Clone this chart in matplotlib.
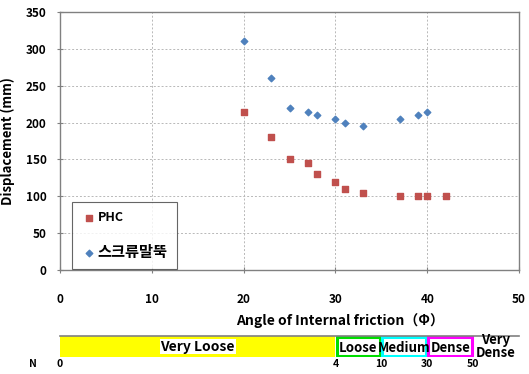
import matplotlib.pyplot as plt
from matplotlib.patches import Rectangle

plt.rcParams['font.family'] = ['Noto Sans CJK KR', 'DejaVu Sans']

# Data
phc_x = [20, 23, 25, 27, 28, 30, 31, 33, 37, 39, 40, 42]
phc_y = [215, 180, 150, 145, 130, 120, 110, 105, 100, 100, 100, 100]
screw_x = [20, 23, 25, 27, 28, 30, 31, 33, 37, 39, 40]
screw_y = [310, 260, 220, 215, 210, 205, 200, 195, 205, 210, 215]

# Relative density bands (angle ranges) and SPT N values
band_edges = [0, 30, 35, 40, 45, 50]
band_names = ['Very Loose', 'Loose', 'Medium', 'Dense', 'Very\nDense']
band_colors = ['#FFFF00', '#00DD00', '#00FFFF', '#FF00FF', '#999999']
n_values = ['0', '4', '10', '30', '50']

W, H = 529, 374
fig = plt.figure(figsize=(W / 100, H / 100), dpi=100)
ax = fig.add_axes([60 / W, (H - 270) / H, 459 / W, 258 / H])

ax.scatter(phc_x, phc_y, marker='s', s=22, color='#C0504D', label='PHC', zorder=3)
ax.scatter(screw_x, screw_y, marker='D', s=11, color='#4F81BD', label='스크류말뚝', zorder=3)

ax.set_xlim(0, 50)
ax.set_ylim(0, 350)
ax.set_xticks(range(0, 51, 10))
ax.set_yticks(range(0, 351, 50))
ax.grid(True, color='#B8B8B8', linestyle=(0, (2, 2)), linewidth=0.7)
for s in ax.spines.values():
    s.set_color('#808080')
    s.set_linewidth(1.0)
ax.tick_params(axis='both', direction='inout', length=5, color='#808080',
               labelsize=8.5)
ax.tick_params(axis='x', pad=14)
ax.tick_params(axis='y', pad=7)
for lbl in ax.get_xticklabels() + ax.get_yticklabels():
    lbl.set_fontweight('bold')

ax.set_ylabel('Displacement (mm)', fontsize=9.5, fontweight='bold', labelpad=8)
fig.text(340 / W, (H - 321) / H, 'Angle of Internal friction（Φ）',
         fontsize=10, fontweight='bold', ha='center', va='center')

leg = ax.legend(loc='upper left', bbox_to_anchor=(72 / W, 1 - 202 / H),
                bbox_transform=fig.transFigure, frameon=True, fancybox=False,
                edgecolor='#404040', labelspacing=1.55,
                handletextpad=0.1, handlelength=1.2, borderpad=0.75,
                borderaxespad=0, prop={'weight': 'bold', 'size': 9})
leg.get_frame().set_linewidth(0.8)
leg.get_texts()[1].set_fontsize(11)

# Density band strip below the chart
bx = fig.add_axes([60 / W, (H - 357) / H, 459 / W, 21 / H])
bx.set_xlim(0, 50)
bx.set_ylim(0, 1)
bx.axis('off')
for i, name in enumerate(band_names):
    x0, x1 = band_edges[i], band_edges[i + 1]
    if i == 0:
        bx.add_patch(Rectangle((x0, 0), x1 - x0, 1, facecolor=band_colors[i],
                               edgecolor='none'))
        bx.text((x0 + x1) / 2, 0.5, name, ha='center', va='center',
                fontsize=10, fontweight='bold',
                bbox=dict(facecolor='white', edgecolor='none', pad=0.5))
    elif i < 4:
        bx.add_patch(Rectangle((x0 + 0.12, 0.07), x1 - x0 - 0.24, 0.86,
                               facecolor='white', edgecolor=band_colors[i],
                               linewidth=2.2))
        bx.text((x0 + x1) / 2, 0.45, name, ha='center', va='center',
                fontsize=9.5, fontweight='bold')
    else:
        bx.text((x0 + x1) / 2, 0.5, name, ha='center', va='center',
                fontsize=9.5, fontweight='bold', linespacing=0.85)
bx.plot([0, 50], [1, 1], color='#808080', linewidth=1.2, clip_on=False)

for xe, nv in zip(band_edges, n_values):
    fig.text((60 + xe * 9.18) / W, (H - 364) / H, nv, ha='center', va='center',
             fontsize=7.5, fontweight='bold')
fig.text(33 / W, (H - 364) / H, 'N', ha='center', va='center',
         fontsize=7.5, fontweight='bold')

fig.savefig('out.png', dpi=100)
